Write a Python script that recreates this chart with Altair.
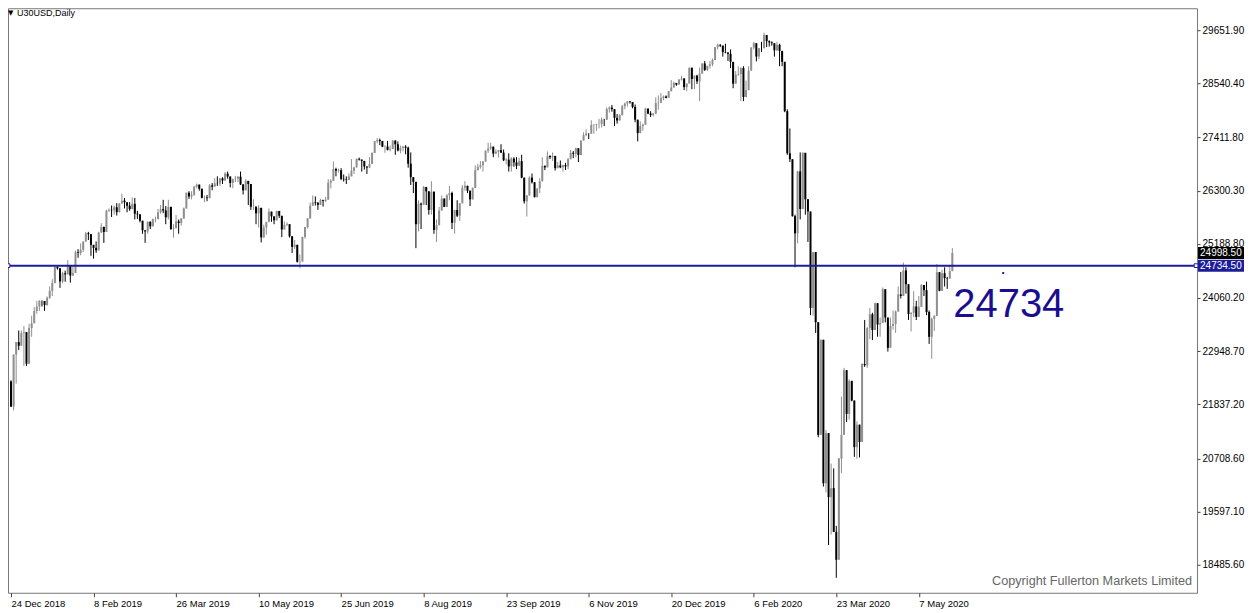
import altair as alt
import pandas as pd

# ---------------- data ----------------
first_open = 22317

close = [
    21792, 22878, 23138, 23062, 23327,
    23346, 22686, 23433,
    23531, 23787, 23879, 24001, 23996,
    23910, 24066, 24207, 24370, 24706,
    24680, 24404, 24575, 24553, 24737,
    24528, 24580, 25014, 24999,
    25064,
    25239, 25411, 25391, 25169, 25106,
    25053, 25426, 25543, 25439, 25883,
    25900, 25891, 25954, 25850, 26031,
    26092, 26057, 25986, 25916, 26026,
    25819, 25806, 25673, 25473, 25450,
    25651, 25555, 25703, 25710, 25849,
    25914, 25887, 25745, 25963, 25502,
    25516, 25658, 25626, 25718, 25929,
    26258, 26180, 26218, 26385, 26425,
    26341, 26151, 26157, 26143, 26412,
    26385, 26453, 26450, 26559,
    26512, 26656, 26597, 26462, 26543,
    26554, 26593, 26430, 26308, 26505,
    26439, 25965, 25968, 25828, 25942,
    25325, 25532, 25648, 25863, 25764,
    25680, 25877, 25776, 25490, 25586,
    25600, 25348, 25127, 25170, 24815,
    24820, 25333, 25540, 25720, 25984,
    26062, 26049, 26005, 26107, 26090,
    26112, 26466, 26504, 26753, 26719,
    26727, 26548, 26537, 26527, 26600,
    26718, 26787, 26966, 26950, 26922,
    26806, 26784, 26860, 27088, 27332,
    27359, 27336, 27220, 27223, 27154,
    27172, 27349, 27270, 27141, 27192,
    27222, 27198, 26864, 26583, 26485,
    25600, 26030, 26008, 26378, 26287,
    25897, 26280, 25480, 25579, 25886,
    26136, 25962, 26202, 26253, 25629,
    25898, 25778, 26036, 26362, 26403,
    26300, 26118, 26355, 26728, 26797,
    26835, 26909, 27137, 27182, 27220,
    27076, 27111, 27147, 27095, 26935,
    26949, 26808, 26971, 26891, 26820,
    26917, 26573, 26079, 26201, 26573,
    26478, 26164, 26347, 26497, 26817,
    26787, 27025, 27001, 27026, 26770,
    26828, 26788, 26834, 26806, 26958,
    27091, 27071, 27186, 27046, 27347,
    27462, 27493, 27492, 27675, 27681,
    27691, 27691, 27784, 27782, 28005,
    28036, 28004, 27821, 27767, 27876,
    28066, 28122, 28165, 28150, 28051,
    27783, 27503, 27650, 27678, 28015,
    27910, 27882, 27911, 28132, 28135,
    28236, 28268, 28240, 28377, 28455,
    28551, 28516, 28621, 28645, 28463, 28538,
    28869, 28634,
    28703, 28584, 28746, 28957, 28824,
    28908, 28940, 29030, 29298, 29348,
    29330, 29196, 29186, 29160, 28990,
    28536, 28723, 28734, 28860, 28256,
    28400, 28808, 29290, 29380, 29103,
    29277, 29276, 29551, 29424, 29398,
    29380, 29232, 29348, 29220, 28992,
    27961, 27081, 26957, 25767, 25409,
    26703, 25917, 27091, 26122, 25865,
    23851, 25018, 23553, 21200, 23186,
    20189, 21237, 19899, 20087, 19174,
    18592, 20705, 21200, 22552, 21637,
    22328, 21917, 20944, 21413, 21053,
    22680, 22654, 23434, 23719,
    23391, 23950, 23505, 23538, 24242,
    23650, 23019, 23475, 23516, 23775,
    24134, 24102, 24634, 24346, 23724,
    23750, 23883, 23664, 23876, 24331,
    24222, 23765, 23248, 23625, 23685,
    24597, 24207, 24576, 24474, 24465,
    24620, 24998.5,
]

high = [
    22340, 22880, 23140, 23380, 23380,
    23470, 23300, 23520,
    23690, 23870, 24000, 24010, 24000,
    23960, 24090, 24300, 24450, 24750,
    24720, 24610, 24610, 24630, 24850,
    24720, 24720, 25050, 25080,
    25200,
    25240, 25440, 25440, 25390, 25120,
    25240, 25440, 25620, 25550, 25900,
    25930, 25990, 25990, 26040, 26040,
    26240, 26150, 26050, 26060, 26160,
    26150, 25880, 25800, 25640, 25450,
    25660, 25660, 25720, 25760, 25920,
    26000, 26110, 25980, 26110, 25960,
    25600, 25790, 25700, 25730, 25950,
    26260, 26290, 26290, 26400, 26450,
    26430, 26330, 26200, 26210, 26440,
    26460, 26560, 26600, 26560,
    26580, 26690, 26700, 26520, 26550,
    26610, 26600, 26700, 26440, 26540,
    26440, 26380, 26120, 25900, 26000,
    25540, 25590, 25650, 25930, 25860,
    25740, 25880, 25870, 25710, 25660,
    25640, 25590, 25350, 25270, 25080,
    24970, 25340, 25540, 25730, 26050,
    26200, 26180, 26060, 26130, 26110,
    26170, 26540, 26540, 26910, 26780,
    26760, 26770, 26640, 26600, 26660,
    26960, 26800, 26970, 26990, 26950,
    26900, 26800, 27000, 27100, 27340,
    27400, 27390, 27340, 27250, 27340,
    27240, 27350, 27270, 27330, 27240,
    27230, 27250, 27220, 27100, 26570,
    26480, 26100, 26050, 26400, 26350,
    26200, 26500, 26100, 25700, 25960,
    26200, 26120, 26230, 26400, 26280,
    25900, 26100, 26040, 26420, 26500,
    26400, 26300, 26370, 26830, 26860,
    26920, 26920, 27140, 27300, 27300,
    27170, 27160, 27150, 27270, 27160,
    26980, 27080, 27000, 27000, 27000,
    26990, 27050, 26490, 26210, 26600,
    26660, 26470, 26350, 26560, 27000,
    26830, 27120, 27040, 27100, 27000,
    26900, 26930, 26840, 26880, 26980,
    27150, 27130, 27200, 27170, 27350,
    27520, 27580, 27500, 27770, 27690,
    27700, 27800, 27830, 27800, 28040,
    28060, 28090, 27980, 27900, 27900,
    28090, 28140, 28170, 28170, 28150,
    28100, 27780, 27750, 27700, 28030,
    28000, 27960, 27920, 28250, 28290,
    28340, 28290, 28290, 28380, 28610,
    28580, 28540, 28630, 28700, 28640, 28540,
    28870, 28750,
    28710, 28720, 28870, 28960, 29010,
    28910, 29010, 29060, 29300, 29370,
    29360, 29300, 29370, 29190, 29250,
    28600, 28800, 28900, 28880, 28900,
    28600, 28900, 29300, 29410, 29250,
    29280, 29410, 29600, 29520, 29440,
    29420, 29300, 29410, 29370, 29200,
    28400, 28000, 27600, 26950, 25800,
    26710, 27100, 27100, 26900, 26000,
    25000, 25020, 24600, 22840, 23190,
    22000, 21300, 21000, 20600, 20500,
    19300, 20720, 22000, 22600, 22300,
    22360, 22300, 21600, 21480, 21400,
    22700, 23600, 23450, 23850,
    23750, 23960, 23800, 23650, 24280,
    24100, 23600, 23650, 23800, 23800,
    24300, 24600, 24800, 24700, 24250,
    23760, 24200, 24000, 24100, 24350,
    24300, 24400, 23800, 23650, 23700,
    24770, 24600, 24650, 24700, 24500,
    24750, 25100,
]

low = [
    21780, 21710, 22270, 22970, 23140,
    22640, 22640, 22870,
    23250, 23550, 23730, 23790, 23880,
    23790, 23900, 24040, 24100, 24410,
    24650, 24270, 24370, 24400, 24560,
    24380, 24520, 24640, 24900,
    24950,
    25020, 25240, 25270, 24940, 24880,
    25000, 25100, 25420, 25210, 25500,
    25860, 25750, 25800, 25780, 25850,
    26030, 25930, 25850, 25880, 25920,
    25700, 25710, 25640, 25400, 25210,
    25400, 25500, 25560, 25640, 25700,
    25820, 25830, 25600, 25700, 25480,
    25320, 25530, 25400, 25570, 25750,
    26010, 26130, 26120, 26190, 26350,
    26300, 26140, 26060, 26080, 26190,
    26310, 26420, 26400, 26400,
    26440, 26520, 26550, 26370, 26350,
    26480, 26480, 26420, 26220, 26350,
    26000, 25900, 25900, 25600, 25530,
    25220, 25320, 25380, 25640, 25650,
    25600, 25700, 25730, 25330, 25490,
    25560, 25320, 25000, 25080, 24800,
    24680, 24960, 25300, 25510, 25720,
    26000, 25990, 25900, 26000, 25970,
    26060, 26200, 26350, 26590, 26600,
    26680, 26520, 26490, 26440, 26530,
    26680, 26650, 26800, 26930, 26700,
    26740, 26650, 26770, 26900, 27100,
    27290, 27250, 27210, 27090, 27140,
    27120, 27170, 27050, 27120, 27080,
    27120, 27060, 26780, 26420, 26250,
    25100, 25450, 25500, 26050, 26000,
    25800, 25800, 25400, 25230, 25620,
    26000, 25960, 26000, 26100, 25500,
    25400, 25750, 25670, 26100, 26300,
    26250, 25980, 26200, 26500, 26730,
    26760, 26700, 26940, 27090, 27150,
    27000, 27060, 26990, 27090, 26920,
    26850, 26700, 26700, 26800, 26750,
    26860, 26560, 26030, 25760, 26200,
    26450, 26160, 26200, 26250, 26550,
    26730, 26800, 26960, 26920, 26720,
    26780, 26770, 26700, 26730, 26750,
    26980, 26980, 27000, 26900, 27110,
    27380, 27440, 27380, 27560, 27490,
    27550, 27600, 27620, 27650, 27850,
    27930, 27950, 27650, 27700, 27770,
    27950, 28000, 28060, 28120, 28020,
    27730, 27330, 27530, 27550, 27800,
    27900, 27840, 27850, 27900, 27990,
    28160, 28190, 28230, 28250, 28420,
    28470, 28490, 28520, 28600, 28400, 28380,
    28620, 28420,
    28420, 28530, 28170, 28820, 28800,
    28800, 28850, 28900, 29100, 29250,
    29300, 29100, 29170, 29010, 28860,
    28440, 28550, 28700, 28170, 28170,
    28280, 28600, 28900, 29250, 29000,
    29050, 29200, 29300, 29300, 29310,
    29330, 29100, 29220, 28900, 28900,
    27940, 27050, 26900, 25760, 24700,
    25200, 25700, 26300, 25800, 25230,
    23700, 23690, 23330, 21150, 21300,
    20120, 20000, 18900, 19120, 19170,
    18214, 19400, 20400, 21200, 21470,
    21520, 21900, 20740, 20700, 20730,
    21700, 22620, 22600, 23200,
    23180, 23500, 23250, 23250, 23800,
    23550, 22940, 23100, 23400, 23330,
    23850, 24050, 24200, 24150, 23600,
    23360, 23660, 23600, 23800, 23950,
    24100, 23700, 23100, 22790, 23370,
    23900, 24200, 24300, 24300, 24250,
    24560, 24650,
]

tick_labels = ["24 Dec 2018", "8 Feb 2019", "26 Mar 2019", "10 May 2019", "25 Jun 2019",
               "8 Aug 2019", "23 Sep 2019", "6 Nov 2019", "20 Dec 2019", "6 Feb 2020",
               "23 Mar 2020", "7 May 2020"]
bars_per_label = 32
y_ticks = [18485.60, 19597.10, 20708.60, 21837.20, 22948.70, 24060.20,
           25188.80, 26300.30, 27411.80, 28540.40, 29651.90]
level = 24734.50
last_price = 24998.50
level_text = "24734"
symbol_text = "U30USD,Daily"
copyright_text = "Copyright Fullerton Markets Limited"

assert len(close) == len(high) == len(low), (len(close), len(high), len(low))

# ---------------- table ----------------
n = len(close)
opens = [first_open] + close[:-1]
df = pd.DataFrame({
    "i": list(range(n)),
    "open": opens,
    "close": close,
    "high": [max(h, o, c) for h, o, c in zip(high, opens, close)],
    "low": [min(l, o, c) for l, o, c in zip(low, opens, close)],
})
df["dir"] = ["up" if c >= o else "down" for o, c in zip(opens, close)]

W, H = 1190, 585
BLUE = "#1c1c98"

xscale = alt.Scale(domain=[0.77, 457.94], nice=False, zero=False)
yscale = alt.Scale(domain=[17902, 30111], nice=False, zero=False)

label_arr = "[" + ",".join("'" + s + "'" for s in tick_labels) + "]"
xaxis = alt.Axis(
    values=[k * bars_per_label for k in range(len(tick_labels))],
    labelExpr=label_arr + "[round(datum.value / " + str(bars_per_label) + ")]",
    title=None, grid=False, domain=False, tickSize=4, tickColor="#444444",
    labelAlign="left", labelPadding=2, labelFont="Liberation Sans",
    labelFontSize=9.5, labelColor="#000000", labelOverlap=False, labelFlush=False,
)
yaxis = alt.Axis(
    orient="right", values=y_ticks, format=".2f", title=None, grid=False,
    domain=False, tickSize=3, tickColor="#444444", labelPadding=2,
    labelFont="Liberation Sans", labelFontSize=10, labelColor="#000000",
    labelOverlap=False, labelFlush=False,
)

base = alt.Chart(df).encode(
    x=alt.X("i:Q", scale=xscale, axis=xaxis),
    color=alt.Color("dir:N", scale=alt.Scale(domain=["up", "down"], range=["#8f8f8f", "#000000"]), legend=None),
)
wicks = base.mark_rule(strokeWidth=1).encode(
    y=alt.Y("low:Q", scale=yscale, axis=yaxis), y2="high:Q"
)
bodies = base.mark_bar(size=2).encode(y="open:Q", y2="close:Q")

lvl_df = pd.DataFrame({"v": [level], "t": ["%.2f" % level]})
last_df = pd.DataFrame({"v": [last_price], "t": ["%.2f" % last_price]})

level_line = alt.Chart(lvl_df).mark_rule(color=BLUE, strokeWidth=2).encode(y="v:Q")
end_left = alt.Chart(lvl_df).mark_point(shape="square", size=14, filled=True, fill="white",
                                        stroke=BLUE, strokeWidth=1, opacity=1).encode(
    y="v:Q", x=alt.value(0))
end_right = alt.Chart(lvl_df).mark_point(shape="square", size=14, filled=True, fill="white",
                                         stroke=BLUE, strokeWidth=1, opacity=1).encode(
    y="v:Q", x=alt.value(W - 1))

last_box = alt.Chart(last_df).mark_rect(color="#000000", yOffset=-6, y2Offset=6).encode(
    y="v:Q", y2="v:Q", x=alt.value(W + 1), x2=alt.value(W + 47))
last_txt = alt.Chart(last_df).mark_text(align="left", baseline="middle", color="white",
                                        font="Liberation Sans", fontSize=10).encode(
    y="v:Q", x=alt.value(W + 3), text="t:N")
lvl_box = alt.Chart(lvl_df).mark_rect(color=BLUE, yOffset=-6, y2Offset=6).encode(
    y="v:Q", y2="v:Q", x=alt.value(W + 1), x2=alt.value(W + 47))
lvl_txt = alt.Chart(lvl_df).mark_text(align="left", baseline="middle", color="white",
                                      font="Liberation Sans", fontSize=10).encode(
    y="v:Q", x=alt.value(W + 3), text="t:N")

big_txt = alt.Chart(pd.DataFrame({"t": [level_text]})).mark_text(
    align="left", baseline="alphabetic", color="#1a0e8e",
    font="Liberation Sans", fontSize=40).encode(
    x=alt.value(946), y=alt.value(309), text="t:N")
dot = alt.Chart(pd.DataFrame({"t": [level_text]})).mark_point(
    shape="square", size=4, filled=True, color=BLUE, opacity=1).encode(
    x=alt.value(996), y=alt.value(265))

tri = alt.Chart(pd.DataFrame({"t": ["▼"]})).mark_text(
    align="left", baseline="middle", color="#000000", font="DejaVu Sans", fontSize=7).encode(
    x=alt.value(0), y=alt.value(5), text="t:N")
sym = alt.Chart(pd.DataFrame({"t": [symbol_text]})).mark_text(
    align="left", baseline="middle", color="#000000", font="Liberation Sans", fontSize=9).encode(
    x=alt.value(9), y=alt.value(5), text="t:N")
copy = alt.Chart(pd.DataFrame({"t": [copyright_text]})).mark_text(
    align="right", baseline="alphabetic", color="#666666",
    font="Liberation Sans", fontSize=12.7).encode(
    x=alt.value(1185), y=alt.value(577), text="t:N")

chart = alt.layer(
    wicks, bodies, level_line, end_left, end_right,
    last_box, last_txt, lvl_box, lvl_txt, big_txt, dot, tri, sym, copy
).properties(
    width=W, height=H, background="white",
    autosize=alt.AutoSizeParams(type="none"),
    padding={"left": 0, "top": 0, "right": 49, "bottom": 17},
).configure_view(
    stroke="#777777", strokeWidth=1
)

chart.save("out.html", embed_options={"renderer": "svg", "actions": False})
